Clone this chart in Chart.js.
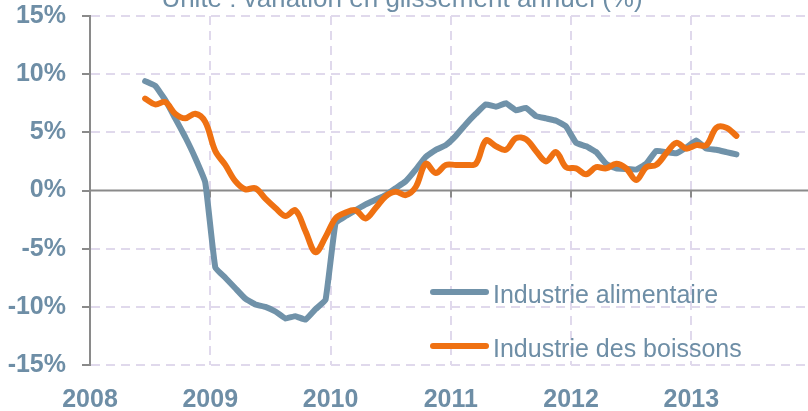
<!DOCTYPE html>
<html>
<head>
<meta charset="utf-8">
<script src="https://cdn.jsdelivr.net/npm/chart.js@4.4.1/dist/chart.umd.min.js"></script>
<style>
  html, body { margin: 0; padding: 0; background: #fff; }
  #wrap { width: 808px; height: 411px; position: relative; }
</style>
</head>
<body>
<div id="wrap"><canvas id="chart"></canvas></div>
<script>
const chartTitle = 'Unité : variation en glissement annuel (%)';
const yearTicks = [2008, 2009, 2010, 2011, 2012, 2013];
const firstMonth = '2008-06';
const lastMonth = '2013-05';

// glissement annuel, en %, un point par mois
const alimentaire = [
  9.4, 9.0, 7.8, 6.2, 4.6, 2.8, 0.7,
  -6.6, -7.5, -8.4, -9.3, -9.8, -10.0, -10.4, -11.0, -10.8, -11.1, -10.2, -9.4,
  -2.8, -2.2, -1.7, -1.2, -0.8, -0.4, 0.2, 0.8, 1.8, 2.9, 3.5, 3.9,
  4.7, 5.7, 6.6, 7.4, 7.2, 7.5, 6.9, 7.1, 6.4, 6.2, 6.0, 5.5,
  4.1, 3.8, 3.3, 2.3, 1.9, 1.85, 1.8, 2.3, 3.4, 3.3, 3.2, 3.7,
  4.3, 3.6, 3.5, 3.3, 3.1
];
const boissons = [
  7.9, 7.4, 7.6, 6.6, 6.2, 6.6, 5.9,
  3.4, 2.2, 0.8, 0.1, 0.2, -0.7, -1.5, -2.2, -1.7, -3.5, -5.3, -4.0,
  -2.4, -1.9, -1.7, -2.4, -1.5, -0.5, -0.1, -0.4, 0.3, 2.3, 1.5, 2.2,
  2.2, 2.2, 2.3, 4.3, 3.8, 3.5, 4.5, 4.4, 3.4, 2.5, 3.3, 2.0,
  1.9, 1.4, 2.0, 1.9, 2.3, 1.9, 0.9, 2.0, 2.2, 3.2, 4.1, 3.6,
  3.9, 3.9, 5.4, 5.4, 4.7
];

const textColor = '#6e8ea6';
const blue = '#7092a9';
const orange = '#ef7112';
const gridColor = '#e0d9ec';
const axisGrey = '#8a8a8a';
const fontFamily = '"Liberation Sans", Arial, sans-serif';

function monthList(from, to) {
  const out = [];
  let [y, m] = from.split('-').map(Number);
  const [ty, tm] = to.split('-').map(Number);
  while (y < ty || (y === ty && m <= tm)) {
    out.push(y + '-' + String(m).padStart(2, '0'));
    m++;
    if (m > 12) { m = 1; y++; }
  }
  return out;
}
const toYear = s => {
  const [y, m] = s.split('-').map(Number);
  return y + (m - 0.5) / 12;
};

const months = monthList(firstMonth, lastMonth);
const points = values => values.map((v, i) => ({ x: toYear(months[i]), y: v }));

// zero line + year ticks, title and legend
const extras = {
  id: 'extras',
  beforeDatasetsDraw(chart) {
    const { ctx, chartArea: a, scales: { x, y } } = chart;
    const y0 = y.getPixelForValue(0);
    ctx.save();
    ctx.strokeStyle = axisGrey;
    ctx.lineWidth = 2;
    ctx.beginPath();
    ctx.moveTo(a.left, y0);
    ctx.lineTo(a.right, y0);
    yearTicks.slice(1).forEach(v => {
      const px = Math.round(x.getPixelForValue(v));
      ctx.moveTo(px, y0);
      ctx.lineTo(px, y0 + 7);
    });
    ctx.stroke();
    ctx.restore();
  },
  afterDraw(chart) {
    const { ctx } = chart;
    ctx.save();
    ctx.fillStyle = textColor;
    ctx.font = '26px ' + fontFamily;
    ctx.textAlign = 'center';
    ctx.textBaseline = 'alphabetic';
    ctx.fillText(chartTitle, 402, 7);

    ctx.font = '25px ' + fontFamily;
    ctx.textAlign = 'left';
    chart.data.datasets.forEach((ds, i) => {
      const ly = 292 + i * 54;
      ctx.strokeStyle = ds.borderColor;
      ctx.lineWidth = 6;
      ctx.lineCap = 'round';
      ctx.beginPath();
      ctx.moveTo(433, ly);
      ctx.lineTo(486, ly);
      ctx.stroke();
      ctx.fillText(ds.label, 493, ly + 11);
    });
    ctx.restore();
  }
};

new Chart(document.getElementById('chart'), {
  type: 'line',
  data: {
    datasets: [{
      label: 'Industrie alimentaire',
      data: points(alimentaire),
      borderColor: blue,
      borderWidth: 6,
      tension: 0.1,
      pointRadius: 0,
      borderJoinStyle: 'round',
      borderCapStyle: 'round',
      order: 2
    }, {
      label: 'Industrie des boissons',
      data: points(boissons),
      borderColor: orange,
      borderWidth: 6,
      tension: 0.35,
      pointRadius: 0,
      borderJoinStyle: 'round',
      borderCapStyle: 'round',
      order: 1
    }]
  },
  options: {
    responsive: true,
    maintainAspectRatio: false,
    animation: false,
    layout: { padding: { top: 16, right: 0, bottom: 0, left: 0 } },
    plugins: {
      legend: { display: false },
      tooltip: { enabled: false },
      title: { display: false }
    },
    scales: {
      x: {
        type: 'linear',
        min: 2008,
        max: 2013.97,
        afterBuildTicks: s => { s.ticks = yearTicks.map(v => ({ value: v })); },
        afterFit: s => {
          s.height = 46;
          s.paddingLeft = 0;
          s.paddingRight = 0;
        },
        grid: { color: gridColor, lineWidth: 2, drawTicks: false },
        border: { display: false, dash: [9, 6] },
        ticks: {
          padding: 20,
          color: textColor,
          font: { family: fontFamily, size: 25, weight: 'bold' },
          maxRotation: 0,
          callback: v => String(v)
        }
      },
      y: {
        min: -15,
        max: 15,
        afterFit: s => {
          s.width = 90;
          s.paddingTop = 0;
          s.paddingBottom = 0;
        },
        grid: {
          color: c => (c.tick && c.tick.value === 0) ? 'rgba(0,0,0,0)' : gridColor,
          lineWidth: 2,
          tickLength: 8,
          tickColor: axisGrey,
          tickWidth: 2
        },
        border: { display: true, color: axisGrey, width: 2, dash: [9, 6] },
        ticks: {
          stepSize: 5,
          padding: 16,
          color: textColor,
          font: { family: fontFamily, size: 25, weight: 'bold' },
          callback: v => v + '%'
        }
      }
    }
  },
  plugins: [extras]
});
</script>
</body>
</html>
